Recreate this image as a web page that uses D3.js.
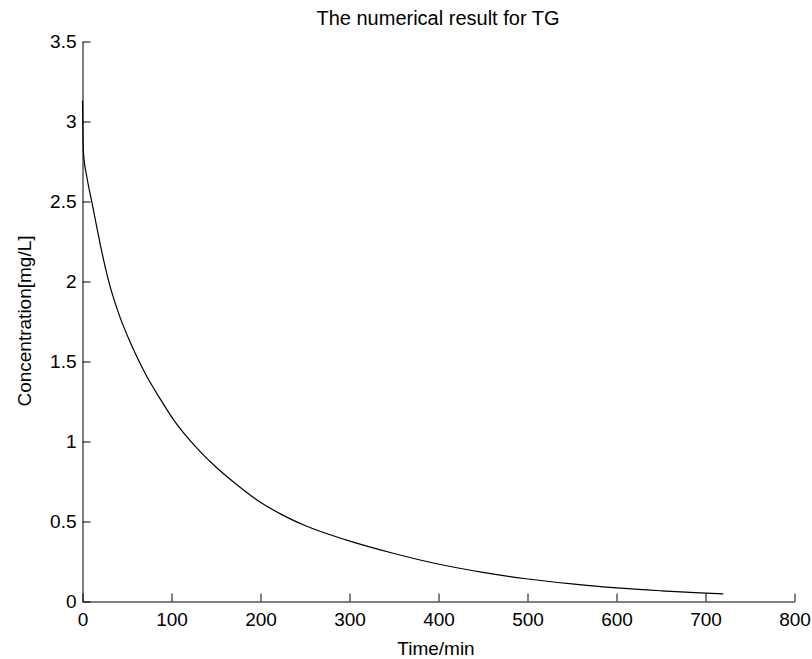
<!DOCTYPE html>
<html>
<head>
<meta charset="utf-8">
<script src="https://cdn.jsdelivr.net/npm/d3@7"></script>
<style>
  body { margin: 0; background: #fff; }
  svg text { font-family: "Liberation Sans", Arial, sans-serif; fill: #000; }
</style>
</head>
<body>
<div id="chart"></div>
<script>
var width = 812,
  height = 659;

// Time points (min) and TG concentration (mg/L)
var times = [0, 0.3, 0.6, 1, 5, 10, 15, 20, 30, 40, 56, 70, 88, 103, 125, 149, 170, 196, 225, 250, 296, 350, 398, 450, 498, 550, 600, 650, 694, 720];
var conc = [3.13, 3.0, 2.9, 2.81, 2.65, 2.51, 2.37, 2.23, 1.99, 1.81, 1.59, 1.43, 1.26, 1.13, 0.98, 0.845, 0.745, 0.635, 0.54, 0.475, 0.385, 0.30, 0.236, 0.182, 0.142, 0.11, 0.085, 0.067, 0.054, 0.048];

var xTicks = [0, 100, 200, 300, 400, 500, 600, 700, 800];
var yTicks = [0, 0.5, 1, 1.5, 2, 2.5, 3, 3.5];

var title = "The numerical result for TG",
  xLabel = "Time/min",
  yLabel = "Concentration[mg/L]";

var svg = d3
  .select("#chart")
  .append("svg")
  .attr("width", width)
  .attr("height", height);

var x = d3.scaleLinear().domain([0, 800]).range([82.5, 794.5]);
var y = d3.scaleLinear().domain([0, 3.5]).range([601.5, 41.5]);

// x axis, ticks pointing inward like matlab
svg
  .append("g")
  .attr("transform", "translate(0," + y(0) + ")")
  .call(
    d3.axisBottom(x)
      .tickValues(xTicks)
      .tickSizeInner(-8)
      .tickSizeOuter(0)
      .tickPadding(11)
      .tickFormat(d3.format("~g"))
  );

svg
  .append("g")
  .attr("transform", "translate(" + x(0) + ",0)")
  .call(
    d3.axisLeft(y)
      .tickValues(yTicks)
      .tickSizeInner(-8)
      .tickSizeOuter(0)
      .tickPadding(6)
      .tickFormat(d3.format("~g"))
  );

svg.selectAll(".domain, .tick line").attr("stroke", "#000").attr("stroke-width", 1);
svg.selectAll(".tick text").style("font-size", "19px").attr("fill", "#000");

// the curve
var data = times.map(function (t, i) {
  return [t, conc[i]];
});
var line = d3
  .line()
  .x(function (d) { return x(d[0]); })
  .y(function (d) { return y(d[1]); })
  .curve(d3.curveMonotoneX);

svg
  .append("path")
  .datum(data)
  .attr("d", line)
  .attr("fill", "none")
  .attr("stroke", "#000")
  .attr("stroke-width", 1.2);

// titles
svg
  .append("text")
  .attr("x", 438)
  .attr("y", 25)
  .attr("text-anchor", "middle")
  .style("font-size", "20px")
  .text(title);

svg
  .append("text")
  .attr("x", 436)
  .attr("y", 655)
  .attr("text-anchor", "middle")
  .style("font-size", "19px")
  .text(xLabel);

svg
  .append("text")
  .attr("transform", "translate(31," + 321 + ") rotate(-90)")
  .attr("text-anchor", "middle")
  .style("font-size", "19px")
  .text(yLabel);
</script>
</body>
</html>
